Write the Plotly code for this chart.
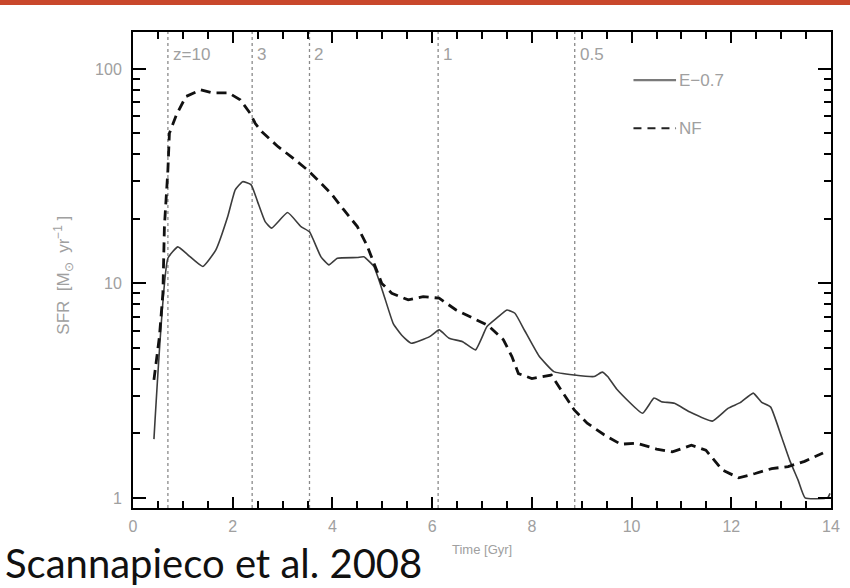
import plotly.graph_objects as go

# ---- data ----
e07_t = [0.42, 0.70, 0.90, 1.10, 1.40, 1.66, 1.90, 2.05, 2.20, 2.37, 2.50, 2.65, 2.78, 3.10, 3.37, 3.54,
         3.77, 3.93, 4.10, 4.50, 4.63, 4.83, 5.02, 5.22, 5.40, 5.58, 5.95, 6.14, 6.34, 6.61, 6.87, 7.10,
         7.30, 7.50, 7.66, 7.86, 8.14, 8.44, 8.85, 9.25, 9.41, 9.52, 9.70, 10.22, 10.45, 10.60, 10.86,
         11.16, 11.62, 11.94, 12.18, 12.44, 12.61, 12.79, 13.00, 13.17, 13.34, 13.48, 13.93, 13.98]
e07_sfr = [1.88, 13.1, 14.8, 13.6, 12.0, 14.3, 20.5, 27.3, 29.8, 28.8, 24.0, 19.4, 18.1, 21.4, 18.4, 17.4,
           13.3, 12.2, 13.1, 13.2, 13.3, 12.0, 9.0, 6.5, 5.7, 5.26, 5.65, 6.07, 5.55, 5.35, 4.90, 6.29,
           6.9, 7.52, 7.26, 6.0, 4.6, 3.88, 3.74, 3.68, 3.86, 3.68, 3.22, 2.48, 2.92, 2.81, 2.76,
           2.52, 2.28, 2.62, 2.78, 3.08, 2.79, 2.65, 1.95, 1.5, 1.21, 1.0, 1.0, 1.05]

nf_t = [0.42, 0.53, 0.60, 0.63, 0.70, 0.73, 0.87, 1.06, 1.36, 1.59, 1.92, 2.15, 2.35, 2.45, 2.58, 2.91,
        3.17, 3.50, 3.70, 3.97, 4.23, 4.50, 4.69, 4.86, 4.99, 5.19, 5.52, 5.82, 6.14, 6.48, 6.87, 7.13,
        7.43, 7.60, 7.73, 8.00, 8.39, 8.85, 9.11, 9.45, 9.78, 10.10, 10.50, 10.82, 11.20, 11.49, 11.82,
        12.15, 12.48, 12.81, 13.14, 13.47, 13.84]
nf_sfr = [3.55, 5.65, 9.0, 18.4, 33.8, 50.1, 61, 74.3, 79.8, 77.3, 77.3, 71.8, 62.1, 55.8, 51.0, 43.4,
          39.0, 33.8, 30.4, 26.3, 22.0, 18.4, 15.1, 12.0, 10.0, 9.0, 8.38, 8.68, 8.53, 7.52, 6.76, 6.35,
          5.46, 4.56, 3.8, 3.6, 3.74, 2.57, 2.23, 1.97, 1.78, 1.80, 1.69, 1.64, 1.76, 1.67, 1.35,
          1.24, 1.30, 1.37, 1.40, 1.48, 1.62]

z_times = [0.70, 2.39, 3.54, 6.12, 8.86]
z_labels = ["z=10", "3", "2", "1", "0.5"]

series_names = ["E\u22120.7", "NF"]
x_ticks = [0, 2, 4, 6, 8, 10, 12, 14]
y_ticks = [1, 10, 100]

GRAY = "#a0a0a0"
TICKFONT = dict(family="Liberation Sans", size=16, color=GRAY)

fig = go.Figure()
fig.add_trace(go.Scatter(x=e07_t, y=e07_sfr, mode="lines", name=series_names[0],
                         line=dict(color="#3c3c3c", width=1.6, shape="spline", smoothing=0.4),
                         showlegend=False))
fig.add_trace(go.Scatter(x=nf_t, y=nf_sfr, mode="lines", name=series_names[1],
                         line=dict(color="#111111", width=2.8, dash="10px,6px"), showlegend=False))

shapes = []
annotations = []
for t, lab in zip(z_times, z_labels):
    shapes.append(dict(type="line", xref="x", yref="paper", x0=t, x1=t, y0=0, y1=1,
                       line=dict(color="#8a8a8a", width=1.3, dash="dot"), layer="below"))
    annotations.append(dict(x=t, y=0.952, xref="x", yref="paper", text=lab, showarrow=False,
                            xanchor="left", yanchor="middle", xshift=3,
                            font=dict(family="Liberation Sans", size=17, color=GRAY)))

# legend (drawn manually)
shapes.append(dict(type="line", xref="paper", yref="paper", x0=0.717, x1=0.778, y0=0.899, y1=0.899,
                   line=dict(color="#7a7a7a", width=2.2)))
shapes.append(dict(type="line", xref="paper", yref="paper", x0=0.717, x1=0.778, y0=0.798, y1=0.798,
                   line=dict(color="#222222", width=2, dash="8px,6px")))
annotations.append(dict(x=0.780, y=0.899, xref="paper", yref="paper", text=series_names[0],
                        showarrow=False, xanchor="left", yanchor="middle",
                        font=dict(family="Liberation Sans", size=17, color=GRAY)))
annotations.append(dict(x=0.780, y=0.798, xref="paper", yref="paper", text=series_names[1],
                        showarrow=False, xanchor="left", yanchor="middle",
                        font=dict(family="Liberation Sans", size=17, color=GRAY)))

# axis titles
annotations.append(dict(x=-0.099, y=0.49, xref="paper", yref="paper",
                        text="SFR  [M<sub>\u2299</sub>  yr<sup>\u22121</sup> ]", textangle=-90,
                        showarrow=False, xanchor="center", yanchor="middle",
                        font=dict(family="Liberation Sans", size=17, color=GRAY)))
annotations.append(dict(x=0.5, y=-0.088, xref="paper", yref="paper", text="Time [Gyr]",
                        showarrow=False, xanchor="center", yanchor="middle",
                        font=dict(family="Liberation Sans", size=13, color=GRAY)))
# citation
annotations.append(dict(x=-0.186, y=-0.116, xref="paper", yref="paper", text="Scannapieco et al. 2008",
                        showarrow=False, xanchor="left", yanchor="middle",
                        font=dict(family="Lato", size=40, color="#111111")))

# top slide bar
shapes.append(dict(type="rect", xref="paper", yref="paper", x0=-0.3, x1=1.1, y0=1.0567, y1=1.09,
                   fillcolor="#c9482c", line=dict(width=0), layer="above"))

fig.update_layout(
    width=850, height=588,
    margin=dict(l=133, r=10, t=32, b=80),
    paper_bgcolor="white", plot_bgcolor="white",
    shapes=shapes, annotations=annotations,
    showlegend=False,
)
fig.update_xaxes(range=[0, 14], tickvals=x_ticks, ticks="inside", ticklen=11, tickwidth=1.6,
                 tickcolor="black", showline=True, linecolor="black", linewidth=2, mirror="allticks",
                 showgrid=False, zeroline=False, tickfont=TICKFONT, ticklabelstandoff=3,
                 minor=dict(ticks="inside", ticklen=7, tickwidth=1.5, dtick=0.5, tickcolor="black", showgrid=False))
fig.update_yaxes(type="log", range=[-0.047, 2.172], tickvals=y_ticks, ticktext=["1", "10", "100"],
                 ticks="inside", ticklen=13, tickwidth=1.6, tickcolor="black", showline=True,
                 linecolor="black", linewidth=2, mirror="allticks", showgrid=False, zeroline=False,
                 tickfont=TICKFONT, ticklabelstandoff=6,
                 minor=dict(ticks="inside", ticklen=7, tickwidth=1.5, dtick="D1", tickcolor="black", showgrid=False))

fig.write_html("out.html")
